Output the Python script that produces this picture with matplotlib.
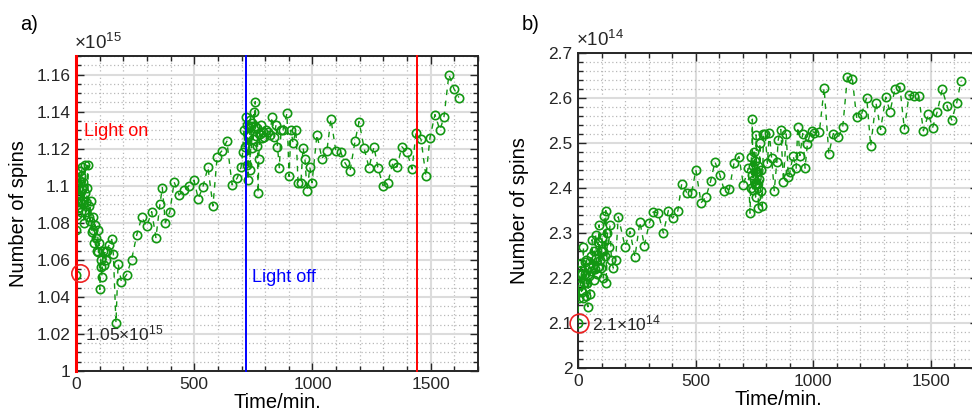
import matplotlib
matplotlib.use("Agg")
import matplotlib.pyplot as plt
from matplotlib.ticker import MultipleLocator, FuncFormatter

# panel a) : time in minutes, spins in units of 1e15
time_a = [0, 2, 4, 6, 8, 10, 12, 14, 16, 18,
          20, 22, 24, 26, 28, 30, 33, 36, 38, 41,
          44, 47, 50, 53, 56, 59, 62, 66, 70, 73,
          77, 80, 84, 87, 91, 95, 98, 101, 104, 107,
          110, 114, 118, 122, 126, 130, 140, 151, 158, 169,
          178, 192, 214, 235, 257, 278, 299, 320, 338, 355,
          365, 378, 397, 415, 436, 457, 478, 499, 517, 537,
          558, 579, 597, 618, 638, 660, 681, 698, 705, 710,
          714, 718, 722, 725, 728, 731, 734, 737, 740, 743,
          746, 749, 752, 755, 758, 761, 764, 767, 770, 773,
          777, 781, 786, 791, 797, 804, 812, 820, 829, 838,
          846, 852, 860, 867, 875, 892, 901, 909, 918, 930,
          939, 951, 960, 968, 977, 989, 998, 1019, 1040, 1061,
          1078, 1099, 1120, 1137, 1159, 1180, 1197, 1218, 1239, 1260,
          1277, 1298, 1319, 1340, 1357, 1378, 1400, 1421, 1438, 1459,
          1480, 1497, 1518, 1539, 1556, 1577, 1598, 1619]
spins_a = [1.052, 1.076, 1.091, 1.084, 1.098, 1.088, 1.103, 1.095, 1.108, 1.092,
           1.105, 1.086, 1.110, 1.098, 1.090, 1.102, 1.080, 1.096, 1.111, 1.091,
           1.086, 1.099, 1.111, 1.083, 1.089, 1.081, 1.092, 1.075, 1.083, 1.076,
           1.069, 1.079, 1.072, 1.065, 1.076, 1.064, 1.069, 1.044, 1.060, 1.056,
           1.051, 1.065, 1.057, 1.064, 1.060, 1.065, 1.068, 1.071, 1.063, 1.026,
           1.058, 1.048, 1.052, 1.060, 1.0735, 1.083, 1.078, 1.086, 1.072, 1.090,
           1.099, 1.080, 1.086, 1.102, 1.095, 1.0975, 1.100, 1.103, 1.093, 1.0995,
           1.110, 1.089, 1.1157, 1.119, 1.124, 1.1005, 1.104, 1.110, 1.118, 1.130,
           1.121, 1.137, 1.111, 1.133, 1.103, 1.128, 1.1355, 1.1086, 1.132, 1.1205,
           1.134, 1.125, 1.140, 1.132, 1.1454, 1.127, 1.1216, 1.131, 1.096, 1.1146,
           1.128, 1.133, 1.126, 1.129, 1.1265, 1.130, 1.129, 1.1275, 1.137, 1.1265,
           1.133, 1.121, 1.1097, 1.130, 1.130, 1.139, 1.105, 1.130, 1.123, 1.130,
           1.1016, 1.1016, 1.1205, 1.1146, 1.0973, 1.110, 1.1016, 1.1276, 1.1146, 1.119,
           1.136, 1.1186, 1.118, 1.1124, 1.108, 1.124, 1.1346, 1.1205, 1.1097, 1.121,
           1.1097, 1.100, 1.1016, 1.1124, 1.110, 1.121, 1.118, 1.109, 1.1286, 1.125,
           1.105, 1.126, 1.1384, 1.130, 1.137, 1.160, 1.1524, 1.1476]

# panel b) : time in minutes, spins in units of 1e14
time_b = [0, 3, 5, 8, 10, 13, 15, 18, 20, 23,
          25, 28, 30, 33, 36, 39, 42, 45, 48, 51,
          54, 57, 60, 63, 66, 69, 72, 75, 78, 81,
          84, 87, 90, 93, 96, 99, 102, 105, 108, 112,
          115, 118, 121, 125, 130, 136, 142, 150, 160, 171,
          200, 221, 242, 263, 282, 303, 320, 341, 363, 384,
          402, 424, 441, 462, 483, 501, 523, 544, 564, 582,
          603, 622, 643, 663, 684, 703, 724, 731, 734, 737,
          739, 741, 743, 745, 747, 749, 751, 753, 755, 757,
          759, 761, 763, 765, 767, 770, 773, 776, 779, 783,
          788, 795, 805, 813, 823, 834, 845, 851, 862, 873,
          885, 894, 901, 914, 927, 934, 943, 955, 965, 975,
          983, 993, 1005, 1026, 1046, 1066, 1085, 1106, 1125, 1145,
          1166, 1184, 1205, 1227, 1244, 1266, 1286, 1308, 1326, 1347,
          1368, 1387, 1407, 1428, 1448, 1468, 1489, 1507, 1527, 1548,
          1569, 1588, 1609, 1628]
spins_b = [2.100, 2.184, 2.155, 2.210, 2.185, 2.233, 2.170, 2.210, 2.155, 2.270,
           2.190, 2.235, 2.210, 2.160, 2.240, 2.190, 2.136, 2.225, 2.205, 2.165,
           2.250, 2.215, 2.285, 2.230, 2.196, 2.260, 2.220, 2.295, 2.245, 2.210,
           2.280, 2.225, 2.318, 2.240, 2.260, 2.222, 2.290, 2.260, 2.200, 2.338,
           2.250, 2.350, 2.189, 2.300, 2.270, 2.318, 2.240, 2.222, 2.240, 2.336,
           2.270, 2.303, 2.247, 2.325, 2.272, 2.322, 2.347, 2.344, 2.300, 2.350,
           2.333, 2.349, 2.410, 2.390, 2.390, 2.440, 2.367, 2.380, 2.416, 2.458,
           2.429, 2.394, 2.397, 2.455, 2.470, 2.407, 2.444, 2.344, 2.400, 2.470,
           2.430, 2.553, 2.396, 2.450, 2.420, 2.480, 2.410, 2.460, 2.380, 2.518,
           2.436, 2.410, 2.450, 2.400, 2.356, 2.420, 2.500, 2.393, 2.440, 2.360,
           2.520, 2.521, 2.455, 2.523, 2.466, 2.394, 2.458, 2.507, 2.530, 2.414,
           2.520, 2.425, 2.436, 2.472, 2.444, 2.536, 2.472, 2.521, 2.444, 2.498,
           2.514, 2.527, 2.523, 2.525, 2.622, 2.476, 2.521, 2.513, 2.535, 2.647,
           2.642, 2.557, 2.564, 2.601, 2.493, 2.590, 2.530, 2.602, 2.570, 2.619,
           2.625, 2.531, 2.607, 2.604, 2.604, 2.527, 2.564, 2.534, 2.570, 2.619,
           2.582, 2.551, 2.588, 2.638]

light_times = [0, 720, 1440]
light_colors = ['red', 'blue', 'red']

plt.rcParams['font.family'] = ['Liberation Sans', 'DejaVu Sans']
plt.rcParams['mathtext.default'] = 'regular'

dark = '#262626'
green = '#129712'

fig = plt.figure(figsize=(9.72, 4.12), dpi=100)
ax1 = fig.add_axes([76 / 972, 41 / 412, 402 / 972, 315 / 412])
ax2 = fig.add_axes([578 / 972, 44 / 412, 400 / 972, 315 / 412])


def style_axes(ax, ymin, ymax, ymajor, yminor, ypad):
    ax.set_xlim(0, 1700)
    ax.set_ylim(ymin, ymax)
    ax.xaxis.set_major_locator(MultipleLocator(500))
    ax.xaxis.set_minor_locator(MultipleLocator(100))
    ax.yaxis.set_major_locator(MultipleLocator(ymajor))
    ax.yaxis.set_minor_locator(MultipleLocator(yminor))
    ax.yaxis.set_major_formatter(FuncFormatter(lambda v, p: f'{v:g}'))
    ax.set_axisbelow(True)
    ax.grid(which='major', color='#dcdcdc', linewidth=1.5, linestyle='-')
    ax.grid(which='minor', color='#b8b8b8', linewidth=0.9, linestyle=(0, (1, 2)))
    ax.tick_params(which='both', direction='in', top=True, right=True,
                   color=dark, labelcolor=dark, labelsize=12.5, width=1)
    ax.tick_params(which='major', length=6, pad=4)
    ax.tick_params(which='minor', length=3.5)
    for s in ax.spines.values():
        s.set_color(dark)
        s.set_linewidth(1.4)
    ax.set_xlabel('Time/min.', fontsize=14.5, color='black', labelpad=1)
    ax.set_ylabel('Number of spins', fontsize=14.5, color='black', labelpad=ypad)


style_axes(ax1, 1.0, 1.17, 0.02, 0.005, 6)
style_axes(ax2, 2.0, 2.7, 0.1, 0.02, 14)

for t, c in zip(light_times, light_colors):
    ax1.axvline(t, color=c, linewidth=2.2 if t == 0 else 1.4, zorder=5, clip_on=False)

ax1.plot(time_a, spins_a, linestyle='--', color=green, linewidth=1.0,
         marker='o', markersize=6, markerfacecolor='none', markeredgewidth=1.2,
         dashes=(4, 4), zorder=4)
ax2.plot(time_b, spins_b, linestyle='--', color=green, linewidth=1.0,
         marker='o', markersize=6, markerfacecolor='none', markeredgewidth=1.2,
         dashes=(4, 4), zorder=4)

# highlighted starting points
ax1.plot([17], [1.053], marker='o', markersize=12.5, markerfacecolor='none',
         markeredgecolor='#ee2222', markeredgewidth=1.2, clip_on=False, zorder=6)
ax2.plot([4], [2.1], marker='o', markersize=13.5, markerfacecolor='none',
         markeredgecolor='#ee2222', markeredgewidth=1.2, clip_on=False, zorder=6)

ax1.text(38, 1.02, '1.05×10$^{15}$', fontsize=12.5, color=dark, ha='left', va='center')
ax2.text(60, 2.1, '2.1×10$^{14}$', fontsize=12.5, color=dark, ha='left', va='center')

ax1.text(35, 1.129, 'Light on', fontsize=13, color='red', ha='left', va='center')
ax1.text(743, 1.0505, 'Light off', fontsize=13, color='blue', ha='left', va='center')

ax1.text(-0.005, 1.01, '×10$^{15}$', transform=ax1.transAxes, fontsize=13.5,
         color=dark, ha='left', va='bottom')
ax2.text(-0.005, 1.01, '×10$^{14}$', transform=ax2.transAxes, fontsize=13.5,
         color=dark, ha='left', va='bottom')

fig.text(20 / 972, 1 - 25 / 412, 'a)', fontsize=14.5, ha='left', va='center')
fig.text(522 / 972, 1 - 25 / 412, 'b)', fontsize=14.5, ha='left', va='center')

fig.savefig('out.png', dpi=100)
